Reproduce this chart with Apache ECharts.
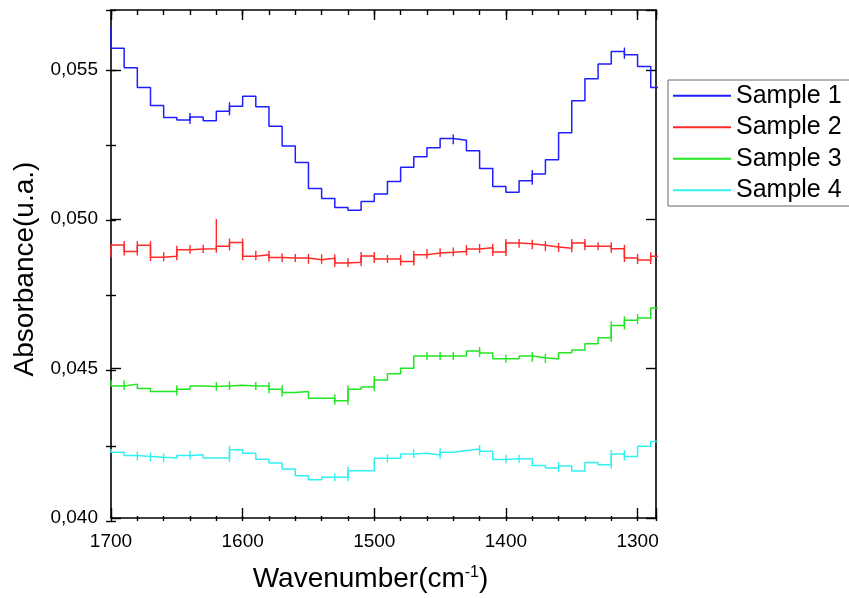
<!DOCTYPE html>
<html>
<head>
<meta charset="utf-8">
<script src="https://cdn.jsdelivr.net/npm/echarts@6.0.0/dist/echarts.min.js"></script>
<style>
  html, body { margin: 0; padding: 0; background: #fff; }
  #chart { width: 849px; height: 598px; }
</style>
</head>
<body>
<div id="chart"></div>
<script>
// wavenumber of each step edge (cm-1), plotted right-to-left
const wavenumber = [1700, 1690, 1680, 1670, 1660, 1650, 1640, 1630, 1620, 1610,
  1600, 1590, 1580, 1570, 1560, 1550, 1540, 1530, 1520, 1510,
  1500, 1490, 1480, 1470, 1460, 1450, 1440, 1430, 1420, 1410,
  1400, 1390, 1380, 1370, 1360, 1350, 1340, 1330, 1320, 1310,
  1300, 1290, 1280]

const sample1 = [0.05642, 0.05572, 0.05507, 0.05441, 0.05380, 0.05340, 0.05332, 0.05342, 0.05329, 0.05361,
  0.05378, 0.05411, 0.05376, 0.05311, 0.05245, 0.05190, 0.05103, 0.05069, 0.05039, 0.05030,
  0.05059, 0.05084, 0.05126, 0.05174, 0.05209, 0.05239, 0.05270, 0.05264, 0.05229, 0.05170,
  0.05109, 0.05090, 0.05129, 0.05151, 0.05199, 0.05289, 0.05396, 0.05470, 0.05519, 0.05561,
  0.05550, 0.05511, 0.05441]

const sample2 = [0.04872, 0.04914, 0.04892, 0.04913, 0.04873, 0.04876, 0.04898, 0.04900, 0.04901, 0.04909,
  0.04922, 0.04876, 0.04881, 0.04872, 0.04870, 0.04870, 0.04864, 0.04869, 0.04853, 0.04856,
  0.04877, 0.04867, 0.04867, 0.04858, 0.04881, 0.04887, 0.04889, 0.04892, 0.04900, 0.04904,
  0.04890, 0.04920, 0.04918, 0.04913, 0.04907, 0.04903, 0.04920, 0.04909, 0.04909, 0.04901,
  0.04870, 0.04863, 0.04876]

const sample3 = [0.04461, 0.04442, 0.04448, 0.04433, 0.04423, 0.04423, 0.04431, 0.04442, 0.04440, 0.04442,
  0.04444, 0.04442, 0.04442, 0.04431, 0.04420, 0.04423, 0.04401, 0.04401, 0.04392, 0.04431,
  0.04438, 0.04462, 0.04483, 0.04501, 0.04542, 0.04542, 0.04542, 0.04542, 0.04559, 0.04552,
  0.04533, 0.04533, 0.04542, 0.04536, 0.04532, 0.04553, 0.04562, 0.04583, 0.04603, 0.04644,
  0.04662, 0.04669, 0.04703]

const sample4 = [0.04231, 0.04220, 0.04209, 0.04206, 0.04203, 0.04201, 0.04209, 0.04212, 0.04201, 0.04201,
  0.04228, 0.04217, 0.04197, 0.04184, 0.04164, 0.04141, 0.04128, 0.04136, 0.04136, 0.04158,
  0.04158, 0.04200, 0.04200, 0.04214, 0.04217, 0.04211, 0.04220, 0.04226, 0.04231, 0.04223,
  0.04196, 0.04198, 0.04198, 0.04176, 0.04167, 0.04174, 0.04157, 0.04186, 0.04178, 0.04214,
  0.04206, 0.04240, 0.04256]

// step edges where the recorded trace shows a small vertical noise tick
const ticks1 = [1640, 1610, 1440, 1380, 1310]
const ticks2 = [1690, 1680, 1670, 1660, 1650, 1640, 1630, 1620, 1610, 1600,
  1590, 1580, 1570, 1560, 1550, 1540, 1530, 1520, 1510, 1500,
  1490, 1480, 1470, 1460, 1450, 1440, 1430, 1420, 1410, 1400,
  1390, 1380, 1370, 1360, 1350, 1340, 1330, 1320, 1310, 1300, 1290]
const ticks3 = [1690, 1650, 1620, 1610, 1590, 1580, 1570, 1530, 1520, 1500,
  1460, 1450, 1440, 1420, 1400, 1380, 1370, 1320, 1310, 1300]
const ticks4 = [1680, 1670, 1660, 1640, 1610, 1530, 1520, 1490, 1470, 1450,
  1420, 1400, 1390, 1360, 1320, 1310]

// isolated spikes that reach well past the step: [wavenumber, peak absorbance]
const spikes2 = [[1620, 0.04987]]

const seriesNames = ['Sample 1', 'Sample 2', 'Sample 3', 'Sample 4']
const seriesColors = ['#1e1eff', '#ff2a2a', '#22e622', '#33f0f0']

// axis range
const waveStart = 1700
const waveEnd = 1286
const yMin = 0.040
const yMax = 0.057

const FONT = '"Liberation Sans", Arial, sans-serif'

// x is plotted as distance from 1700 so the ticks start at a round value
const toX = w => waveStart - w

const chart = echarts.init(document.getElementById('chart'))

const gridBox = { left: 111, right: 193, top: 10, bottom: 77 }

const xBase = {
  type: 'value',
  min: 0,
  max: waveStart - waveEnd,
  splitLine: { show: false },
  axisLine: { show: false },
  axisLabel: { show: false }
}
const yBase = {
  type: 'value',
  min: yMin,
  max: yMax,
  splitLine: { show: false },
  axisLine: { show: false },
  axisLabel: { show: false }
}
const lineBlack = { show: true, onZero: false, lineStyle: { color: '#000', width: 1.6 } }
const tick = len => ({ show: true, inside: true, length: len, lineStyle: { color: '#000', width: 1.4 } })

const allSamples = [sample1, sample2, sample3, sample4]
const allTicks = [ticks1, ticks2, ticks3, ticks4]
const allSpikes = [[], spikes2, [], []]

// step lines
const stepSeries = allSamples.map((vals, i) => ({
  name: seriesNames[i],
  type: 'line',
  step: 'start',
  symbol: 'none',
  color: seriesColors[i],
  lineStyle: { width: 1.5, color: seriesColors[i] },
  xAxisIndex: 0,
  yAxisIndex: 0,
  clip: true,
  z: 3,
  data: wavenumber.map((w, j) => [toX(w), vals[j]])
}))

// noise ticks at step edges: span from the level before to the level after
const tickSeries = allTicks.map((list, i) => ({
  name: seriesNames[i] + ' ticks',
  type: 'custom',
  xAxisIndex: 0,
  yAxisIndex: 0,
  clip: true,
  z: 3,
  encode: { x: 0, y: [1, 2] },
  data: list.map(w => {
    const j = wavenumber.indexOf(w)
    const a = allSamples[i][j]
    const b = allSamples[i][j + 1]
    let hi = Math.max(a, b)
    allSpikes[i].forEach(s => { if (s[0] === w) hi = Math.max(hi, s[1]) })
    return [toX(w), Math.min(a, b), hi]
  }),
  renderItem: (params, api) => {
    const lo = api.coord([api.value(0), api.value(1)])
    const hi = api.coord([api.value(0), api.value(2)])
    return {
      type: 'line',
      shape: { x1: lo[0], y1: lo[1] + 4, x2: hi[0], y2: hi[1] - 4 },
      style: { stroke: seriesColors[i], lineWidth: 1.4 }
    }
  }
}))

const option = {
  animation: false,
  backgroundColor: '#fff',
  // grid 0 holds the data and major ticks, grid 1 only the minor ticks
  grid: [gridBox, gridBox],
  legend: {
    orient: 'vertical',
    left: 668,
    top: 80,
    data: seriesNames,
    icon: 'rect',
    itemWidth: 58,
    itemHeight: 2,
    itemGap: 0,
    padding: [0, 8, 0, 5],
    borderColor: '#666',
    borderWidth: 1,
    textStyle: { fontSize: 25, color: '#000', fontFamily: FONT, lineHeight: 31.5 }
  },
  xAxis: [
    {
      ...xBase,
      gridIndex: 0,
      position: 'bottom',
      interval: 100,
      axisLine: lineBlack,
      axisTick: tick(10),
      axisLabel: {
        show: true,
        margin: 14,
        fontSize: 19,
        color: '#000',
        fontFamily: FONT,
        formatter: v => (v % 100 === 0 ? String(waveStart - v) : '')
      },
      name: '{a|Wavenumber(cm}{s|-1}{a|)}',
      nameLocation: 'middle',
      nameGap: 47,
      nameTextStyle: {
        padding: [0, 26, 0, 0],
        rich: {
          a: { fontSize: 28, color: '#000', fontFamily: FONT },
          s: { fontSize: 16, color: '#000', fontFamily: FONT, verticalAlign: 'top' }
        }
      }
    },
    { ...xBase, gridIndex: 0, position: 'top', interval: 100, axisLine: lineBlack, axisTick: tick(10) },
    { ...xBase, gridIndex: 1, position: 'bottom', interval: 20, axisTick: tick(5) },
    { ...xBase, gridIndex: 1, position: 'top', interval: 20, axisTick: tick(5) }
  ],
  yAxis: [
    {
      ...yBase,
      gridIndex: 0,
      position: 'left',
      interval: 0.005,
      axisLine: lineBlack,
      axisTick: tick(10),
      axisLabel: {
        show: true,
        margin: 13,
        fontSize: 19,
        color: '#000',
        fontFamily: FONT,
        showMaxLabel: false,
        formatter: v => v.toFixed(3).replace('.', ',')
      },
      name: 'Absorbance(u.a.)',
      nameLocation: 'middle',
      nameGap: 72,
      nameTextStyle: { fontSize: 28, color: '#000', fontFamily: FONT, padding: [0, 10, 0, 0] }
    },
    { ...yBase, gridIndex: 0, position: 'right', interval: 0.005, axisLine: lineBlack, axisTick: tick(10) },
    { ...yBase, gridIndex: 1, position: 'left', interval: 0.0025, axisTick: tick(5) },
    { ...yBase, gridIndex: 1, position: 'right', interval: 0.0025, axisTick: tick(5) }
  ],
  series: stepSeries.concat(tickSeries)
}

chart.setOption(option)
</script>
</body>
</html>
